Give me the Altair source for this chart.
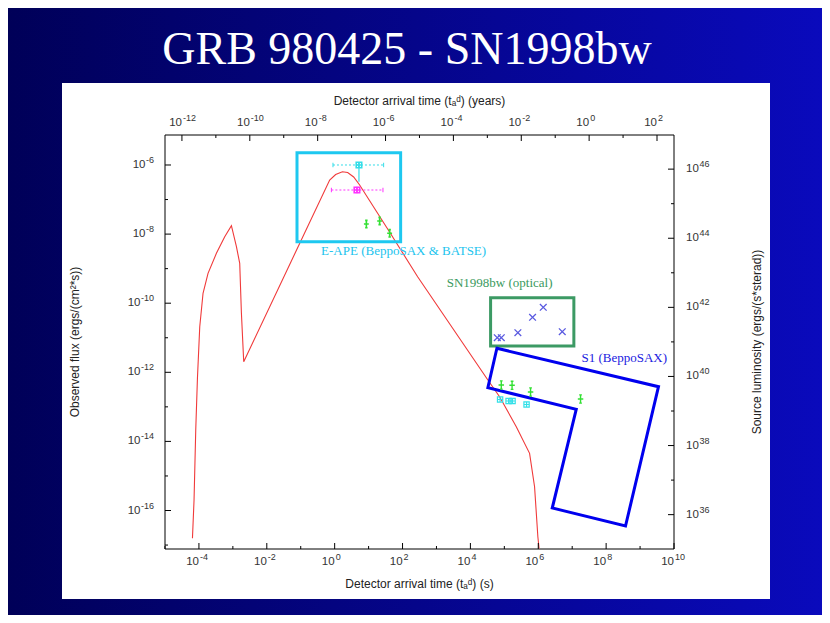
import altair as alt
import pandas as pd

# ---------------- data (log10 of seconds / flux) ----------------
curve_log_t = [-4.191, -4.144, -4.094, -4.044, -3.976, -3.879, -3.732, -3.485, -3.240, -3.043,
               -2.895, -2.798, -2.748, -2.680, -0.147, 0.029, 0.227, 0.383, 0.560, 0.736,
               1.641, 2.445, 4.515, 4.860, 5.352, 5.744, 5.891, 5.988, 6.024]
curve_log_flux = [-16.805, -15.696, -13.670, -12.174, -10.680, -9.713, -9.135, -8.556, -8.075, -7.757,
                  -8.365, -8.845, -10.292, -11.693, -6.434, -6.275, -6.194, -6.217, -6.347, -6.579,
                  -7.977, -9.233, -12.223, -12.706, -13.575, -14.345, -15.311, -16.758, -17.10]

box_names = ["E-APE", "SN1998bw"]
box_log_t0 = [-1.110, 4.595]
box_log_t1 = [1.944, 7.049]
box_log_f0 = [-8.220, -11.239]
box_log_f1 = [-5.644, -9.841]
box_colors = ["#1ec8f0", "#3c9a64"]

s1_log_t = [4.781, 9.543, 8.571, 6.412, 7.119, 4.515, 4.781, 9.543]
s1_log_flux = [-11.305, -12.417, -16.449, -15.928, -13.071, -12.446, -11.305, -12.417]

opt_log_t = [4.792, 4.910, 5.399, 5.832, 6.147, 6.707]
opt_log_flux = [-10.999, -10.999, -10.854, -10.408, -10.119, -10.825]

late_green_log_t = [4.910, 5.228, 5.773, 7.246]
late_green_log_flux = [-12.368, -12.376, -12.570, -12.773]
late_cyan_log_t = [4.875, 5.125, 5.243, 5.655]
late_cyan_log_flux = [-12.787, -12.831, -12.831, -12.932]
early_green_log_t = [0.934, 1.325, 1.620]
early_green_log_flux = [-7.708, -7.621, -7.977]

burst_names = ["cyan", "magenta"]
burst_log_t = [0.716, 0.657]
burst_log_flux = [-6.000, -6.724]
burst_log_t_lo = [-0.050, -0.097]
burst_log_t_hi = [1.443, 1.423]
burst_log_f_lo = [-6.483, -6.819]
burst_log_f_hi = [-5.933, -6.628]
burst_colors = ["#33dde8", "#ff33ff"]

label_text = ["E-APE (BeppoSAX & BATSE)", "SN1998bw (optical)", "S1 (BeppoSAX)"]
label_log_t = [2.032, 4.860, 8.533]
label_log_flux = [-8.489, -9.424, -11.595]
label_colors = ["#22c4ee", "#3a9a5e", "#1a1ae0"]

# axis decades (ticks every decade, labels every second decade)
x_ticks_log = list(range(-5, 11))
y_ticks_log = list(range(-17, -5))
yr_ticks_log = list(range(-12, 3))
lum_ticks_log = list(range(36, 47))
x_label_log = list(range(-4, 11, 2))
y_label_log = list(range(-16, -5, 2))
yr_label_log = list(range(-12, 3, 2))
lum_label_log = list(range(36, 47, 2))

title_text = "GRB 980425 - SN1998bw"
x_title = "Detector arrival time (tₐᵈ) (s)"
x2_title = "Detector arrival time (tₐᵈ) (years)"
y_title = "Observed flux (ergs/(cm²*s))"
y2_title = "Source luminosity (ergs/(s*sterad))"

LUM_SHIFT = 52.12          # log10(L / F)
SEC_PER_YEAR = 3.156e7

# ---------------- layout ----------------
W, H = 509, 414
XDOM = [1e-5, 1e10]
YDOM = [10 ** -17.114, 10 ** -5.132]
YRDOM = [XDOM[0] / SEC_PER_YEAR, XDOM[1] / SEC_PER_YEAR]
LUMDOM = [YDOM[0] * 10 ** LUM_SHIFT, YDOM[1] * 10 ** LUM_SHIFT]

xs = alt.Scale(type="log", domain=XDOM)
ys = alt.Scale(type="log", domain=YDOM)
xs_yr = alt.Scale(type="log", domain=YRDOM)
ys_lum = alt.Scale(type="log", domain=LUMDOM)

FONT = "Liberation Sans"
SERIF = "Liberation Serif"
LBL = "#333333"
BASE_FS, EXP_FS = 11.5, 9

one = pd.DataFrame({"a": [0]})

gradient = alt.LinearGradient(
    gradient="linear",
    stops=[alt.GradientStop(color="#000058", offset=0), alt.GradientStop(color="#0a0abc", offset=1)],
    x1=0, x2=1, y1=0, y2=0,
)
bg = alt.Chart(one).mark_rect(fill=gradient, strokeWidth=0).encode(
    x=alt.value(-157), x2=alt.value(657), y=alt.value(-127), y2=alt.value(480))
panel = alt.Chart(one).mark_rect(fill="white", strokeWidth=0).encode(
    x=alt.value(-103), x2=alt.value(605), y=alt.value(-52), y2=alt.value(464))
title = alt.Chart(one).mark_text(font=SERIF, fontSize=46, color="white", align="center",
                                 baseline="alphabetic").encode(
    x=alt.value(242), y=alt.value(-71), text=alt.value(title_text))
frame = alt.Chart(one).mark_rect(filled=False, stroke="black", strokeWidth=1, color="black").encode(
    x=alt.value(0), x2=alt.value(W), y=alt.value(0), y2=alt.value(H))


def axis_title(txt, x, y, angle=0):
    return alt.Chart(one).mark_text(font=FONT, fontSize=12, color="#222222", align="center",
                                    baseline="middle", angle=angle).encode(
        x=alt.value(x), y=alt.value(y), text=alt.value(txt))


titles = [
    axis_title(x_title, W / 2, H + 35),
    axis_title(x2_title, W / 2, -34),
    axis_title(y_title, -90, H / 2, 270),
    axis_title(y2_title, W + 83, H / 2, 270),
]

curve_df = pd.DataFrame({
    "t": [10 ** v for v in curve_log_t],
    "f": [10 ** v for v in curve_log_flux],
    "i": list(range(len(curve_log_t))),
})
curve = alt.Chart(curve_df).mark_line(color="#f03a3a", strokeWidth=1.1, clip=True).encode(
    x=alt.X("t:Q", scale=xs, axis=None), y=alt.Y("f:Q", scale=ys, axis=None), order="i:Q")

box_df = pd.DataFrame({
    "name": box_names,
    "t0": [10 ** v for v in box_log_t0], "t1": [10 ** v for v in box_log_t1],
    "f0": [10 ** v for v in box_log_f0], "f1": [10 ** v for v in box_log_f1],
    "c": box_colors,
})
boxes = alt.Chart(box_df).mark_rect(filled=False, strokeWidth=3).encode(
    x=alt.X("t0:Q", scale=xs, axis=None), x2="t1:Q",
    y=alt.Y("f0:Q", scale=ys, axis=None), y2="f1:Q",
    stroke=alt.Color("c:N", scale=None),
)

s1_df = pd.DataFrame({
    "t": [10 ** v for v in s1_log_t], "f": [10 ** v for v in s1_log_flux], "i": list(range(len(s1_log_t)))})
s1 = alt.Chart(s1_df).mark_line(color="#0000ee", strokeWidth=3, strokeJoin="miter").encode(
    x=alt.X("t:Q", scale=xs, axis=None), y=alt.Y("f:Q", scale=ys, axis=None), order="i:Q")


def pts(lt, lf, shape, color, size, sw=1.2):
    df = pd.DataFrame({"t": [10 ** v for v in lt], "f": [10 ** v for v in lf]})
    return alt.Chart(df).mark_point(shape=shape, filled=False, size=size, strokeWidth=sw, color=color,
                                    opacity=1).encode(
        x=alt.X("t:Q", scale=xs, axis=None), y=alt.Y("f:Q", scale=ys, axis=None))


X_SHAPE = "M-1,-1L1,1M1,-1L-1,1"
PLUS_BAR = "M-1,0L1,0M0,-1.5L0,1.5M-0.5,-1.5L0.5,-1.5M-0.5,1.5L0.5,1.5"
SQ_CROSS = "M-1,-1H1V1H-1ZM-1,0H1M0,-1V1"

opt = pts(opt_log_t, opt_log_flux, X_SHAPE, "#5a5ae0", 45, 1.3)
late_green = pts(late_green_log_t, late_green_log_flux, PLUS_BAR, "#33e033", 30, 1.4)
late_cyan = pts(late_cyan_log_t, late_cyan_log_flux, SQ_CROSS, "#33e0e8", 28, 1.2)
early_green = pts(early_green_log_t, early_green_log_flux, PLUS_BAR, "#33e033", 24, 1.6)

burst_df = pd.DataFrame({
    "name": burst_names,
    "t": [10 ** v for v in burst_log_t], "f": [10 ** v for v in burst_log_flux],
    "tlo": [10 ** v for v in burst_log_t_lo], "thi": [10 ** v for v in burst_log_t_hi],
    "flo": [10 ** v for v in burst_log_f_lo], "fhi": [10 ** v for v in burst_log_f_hi],
    "c": burst_colors,
})
bx = alt.X("t:Q", scale=xs, axis=None)
by = alt.Y("f:Q", scale=ys, axis=None)
bc = alt.Color("c:N", scale=None)
burst_h = alt.Chart(burst_df).mark_rule(strokeWidth=1, strokeDash=[2, 2]).encode(
    x=alt.X("tlo:Q", scale=xs, axis=None), x2="thi:Q", y=by, color=bc)
burst_v = alt.Chart(burst_df).mark_rule(strokeWidth=1.2).encode(
    x=bx, y=alt.Y("flo:Q", scale=ys, axis=None), y2="fhi:Q", color=bc)
cap_lo = alt.Chart(burst_df).mark_point(shape="M0,-1L0,1", filled=False, size=20, opacity=1,
                                        strokeWidth=1).encode(
    x=alt.X("tlo:Q", scale=xs, axis=None), y=by, color=bc)
cap_hi = alt.Chart(burst_df).mark_point(shape="M0,-1L0,1", filled=False, size=20, opacity=1,
                                        strokeWidth=1).encode(
    x=alt.X("thi:Q", scale=xs, axis=None), y=by, color=bc)
burst_pts = alt.Chart(burst_df).mark_point(shape=SQ_CROSS, filled=False, size=30, opacity=1,
                                           strokeWidth=1.6).encode(x=bx, y=by, color=bc)

label_df = pd.DataFrame({
    "txt": label_text, "t": [10 ** v for v in label_log_t], "f": [10 ** v for v in label_log_flux],
    "c": label_colors})
labels = alt.Chart(label_df).mark_text(font=SERIF, fontSize=13, align="center", baseline="middle").encode(
    x=alt.X("t:Q", scale=xs, axis=None), y=alt.Y("f:Q", scale=ys, axis=None), text="txt:N", color=bc)

# ---------------- inward tick marks ----------------
MAJ, MIN = 6, 3


def tick_df(field, decades):
    return pd.DataFrame({field: [10.0 ** k for k in decades], "major": [k % 2 == 0 for k in decades]})


def xticks(df, field, scale, y0, sign):
    out = []
    for is_major, ln in [(True, MAJ), (False, MIN)]:
        out.append(alt.Chart(df[df["major"] == is_major]).mark_rule(color="black", strokeWidth=1).encode(
            x=alt.X(f"{field}:Q", scale=scale, axis=None),
            y=alt.value(y0), y2=alt.value(y0 + sign * ln)))
    return out


def yticks(df, field, scale, x0, sign):
    out = []
    for is_major, ln in [(True, MAJ), (False, MIN)]:
        out.append(alt.Chart(df[df["major"] == is_major]).mark_rule(color="black", strokeWidth=1).encode(
            y=alt.Y(f"{field}:Q", scale=scale, axis=None),
            x=alt.value(x0), x2=alt.value(x0 + sign * ln)))
    return out


# ---------------- tick labels: "10" with a raised exponent ----------------
def label_df(field, decades):
    return pd.DataFrame({field: [10.0 ** k for k in decades], "base": ["10"] * len(decades),
                         "exp": [str(k) for k in decades]})


def x_labels(field, decades, scale, y_base, y_exp):
    df = label_df(field, decades)
    enc_x = alt.X(f"{field}:Q", scale=scale, axis=None)
    base = alt.Chart(df).mark_text(font=FONT, fontSize=BASE_FS, color=LBL, align="right",
                                   baseline="middle").encode(x=enc_x, y=alt.value(y_base), text="base:N")
    exp = alt.Chart(df).mark_text(font=FONT, fontSize=EXP_FS, color=LBL, align="left", baseline="middle",
                                  dx=1).encode(x=enc_x, y=alt.value(y_exp), text="exp:N")
    return [base, exp]


def y_labels_left(field, decades, scale, x_right):
    df = label_df(field, decades)
    df["wide"] = [len(s) > 2 for s in df["exp"]]
    enc_y = alt.Y(f"{field}:Q", scale=scale, axis=None)
    out = [alt.Chart(df).mark_text(font=FONT, fontSize=EXP_FS, color=LBL, align="right", baseline="middle",
                                   dy=-5).encode(x=alt.value(x_right), y=enc_y, text="exp:N")]
    for wide, ew in [(False, 8.5), (True, 13.5)]:
        out.append(alt.Chart(df[df["wide"] == wide]).mark_text(
            font=FONT, fontSize=BASE_FS, color=LBL, align="right", baseline="middle").encode(
            x=alt.value(x_right - ew), y=enc_y, text="base:N"))
    return out


def y_labels_right(field, decades, scale, x_left):
    df = label_df(field, decades)
    enc_y = alt.Y(f"{field}:Q", scale=scale, axis=None)
    base = alt.Chart(df).mark_text(font=FONT, fontSize=BASE_FS, color=LBL, align="left",
                                   baseline="middle").encode(x=alt.value(x_left), y=enc_y, text="base:N")
    exp = alt.Chart(df).mark_text(font=FONT, fontSize=EXP_FS, color=LBL, align="left", baseline="middle",
                                  dy=-5).encode(x=alt.value(x_left + 13.5), y=enc_y, text="exp:N")
    return [base, exp]


main = alt.layer(
    bg, panel, frame, curve, boxes, s1, opt, late_green, late_cyan, early_green,
    burst_h, burst_v, cap_lo, cap_hi, burst_pts, labels, title, *titles,
    *xticks(tick_df("t", x_ticks_log), "t", xs, H, -1),
    *yticks(tick_df("f", y_ticks_log), "f", ys, 0, 1),
    *x_labels("t", x_label_log, xs, H + 13, H + 8),
    *y_labels_left("f", y_label_log, ys, -11),
)

secondary = alt.layer(
    *xticks(tick_df("yr", yr_ticks_log), "yr", xs_yr, 0, 1),
    *yticks(tick_df("L", lum_ticks_log), "L", ys_lum, W, -1),
    *x_labels("yr", yr_label_log, xs_yr, -12, -17),
    *y_labels_right("L", lum_label_log, ys_lum, W + 12),
)

chart = alt.layer(main, secondary).resolve_scale(x="independent", y="independent").properties(
    width=W, height=H,
    padding={"left": 157, "top": 127, "right": 148, "bottom": 66},
    autosize=alt.AutoSizeParams(type="none"),
).configure(background="#000070").configure_view(stroke=None)

chart.save("out.html", embed_options={"renderer": "svg", "actions": False})
